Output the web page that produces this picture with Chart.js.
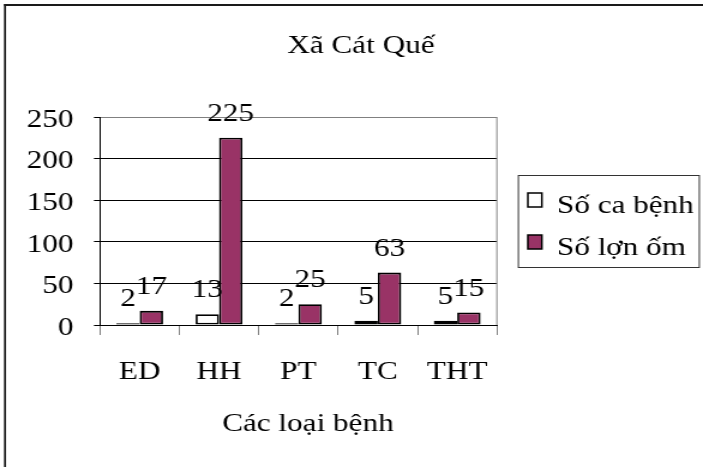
<!DOCTYPE html>
<html>
<head>
<meta charset="utf-8">
<script src="https://cdn.jsdelivr.net/npm/chart.js@4"></script>
<style>
    body { margin: 0; background: #fff; }
    #chart { display: block; width: 703px !important; height: 467px !important; }
</style>
</head>
<body>
<canvas id="chart" width="586" height="467" style="width:703px;height:467px"></canvas>
<script>
// chart data
const categories = ['ED', 'HH', 'PT', 'TC', 'THT'];
const soCaBenh = [2, 13, 2, 5, 5];
const soLonOm = [17, 225, 25, 63, 15];
const seriesNames = ['Số ca bệnh', 'Số lợn ốm'];
const yMin = 0, yMax = 250, yStep = 50;

const chartTitle = 'Xã Cát Quế';
const xTitle = 'Các loại bệnh';

// the original picture is stretched sideways, so the canvas is drawn narrower and scaled up by css
const S = 1.2;
const FONT = "'Liberation Serif', 'Times New Roman', serif";

function stretchedText(ctx, text, x, y, size, align) {
    ctx.save();
    ctx.font = size + 'px ' + FONT;
    ctx.fillStyle = '#000';
    ctx.textAlign = align || 'center';
    ctx.textBaseline = 'alphabetic';
    ctx.fillText(text, x, y);
    ctx.restore();
}

const decorPlugin = {
    id: 'decor',
    beforeDraw(chart) {
        const ctx = chart.ctx;
        ctx.save();
        ctx.fillStyle = '#fff';
        ctx.fillRect(0, 0, chart.width, chart.height);
        // outer frame (only left and top show in the picture)
        ctx.fillStyle = '#1a1a1a';
        ctx.fillRect(4 / S, 4, 2 / S, chart.height);
        ctx.fillRect(4 / S, 4, chart.width, 2);
        ctx.restore();
    },
    afterDatasetsDraw(chart) {
        const ctx = chart.ctx;
        const area = chart.chartArea;
        // right edge of the plot area
        ctx.save();
        ctx.strokeStyle = '#808080';
        ctx.lineWidth = 1;
        ctx.beginPath();
        ctx.moveTo(area.right, area.top);
        ctx.lineTo(area.right, area.bottom);
        ctx.stroke();
        ctx.restore();

        // value labels over the bars
        chart.data.datasets.forEach((ds, i) => {
            chart.getDatasetMeta(i).data.forEach((bar, j) => {
                stretchedText(ctx, String(ds.data[j]), bar.x, bar.y - 17, 26);
            });
        });
    },
    afterDraw(chart) {
        const ctx = chart.ctx;
        stretchedText(ctx, chartTitle, 361 / S, 53, 26);
        stretchedText(ctx, xTitle, 308 / S, 431, 26);

        // legend
        ctx.save();
        ctx.strokeStyle = '#333';
        ctx.lineWidth = 1;
        ctx.strokeRect(518.5 / S, 175.5, (699 - 518) / S, 92);
        const rows = [213, 255];
        chart.data.datasets.forEach((ds, i) => {
            const top = rows[i] - 20;
            ctx.fillStyle = ds.backgroundColor;
            ctx.fillRect(528 / S, top, 14 / S, 14);
            ctx.strokeStyle = '#000';
            ctx.lineWidth = 1.5;
            ctx.strokeRect(528 / S, top, 14 / S, 14);
            stretchedText(ctx, ds.label, 557 / S, rows[i], 26, 'left');
        });
        ctx.restore();
    }
};

const tickFont = { family: FONT, size: 26 };

new Chart(document.getElementById('chart'), {
    type: 'bar',
    data: {
        labels: categories,
        datasets: [{
            label: seriesNames[0],
            data: soCaBenh,
            backgroundColor: '#ffffff',
            borderColor: '#000000',
            borderWidth: 1.8,
            borderSkipped: false
        }, {
            label: seriesNames[1],
            data: soLonOm,
            backgroundColor: '#993366',
            borderColor: '#000000',
            borderWidth: 1.8,
            borderSkipped: false
        }]
    },
    options: {
        responsive: false,
        animation: false,
        events: [],
        categoryPercentage: 0.59,
        barPercentage: 1,
        layout: { padding: { top: 117, right: 586 - 497 / S, bottom: 0, left: 0 } },
        plugins: {
            legend: { display: false },
            tooltip: { enabled: false },
            title: { display: false }
        },
        scales: {
            x: {
                grid: {
                    offset: true,
                    drawOnChartArea: false,
                    tickLength: 10,
                    tickColor: '#808080',
                    lineWidth: 1
                },
                border: { color: '#000', width: 1 },
                ticks: { font: tickFont, color: '#000', padding: 22 },
                afterFit: (scale) => { scale.height = 142; }
            },
            y: {
                min: yMin,
                max: yMax,
                ticks: { stepSize: yStep, font: tickFont, color: '#000', padding: 17, labelOffset: 3 },
                grid: {
                    color: (c) => c.tick && c.tick.value === yMax ? '#808080' : '#000',
                    tickColor: '#000',
                    tickLength: 5,
                    lineWidth: 1
                },
                border: { color: '#000', width: 1 },
                afterFit: (scale) => { scale.width = 100 / S; }
            }
        }
    },
    plugins: [decorPlugin]
});
</script>
</body>
</html>
